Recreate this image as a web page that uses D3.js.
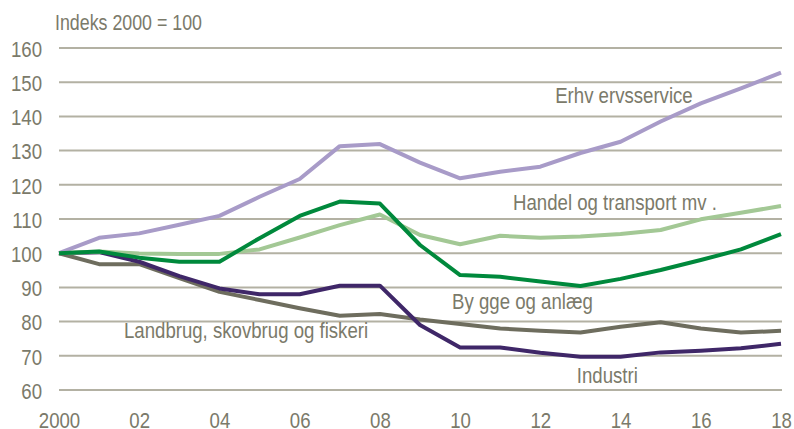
<!DOCTYPE html>
<html>
<head>
<meta charset="utf-8">
<title>Indeks 2000 = 100</title>
<script src="https://d3js.org/d3.v7.min.js"></script>
<style>
    body { margin: 0; background: #fff; }
    text { font-family: "Liberation Sans", Arial, sans-serif; fill: #7b7a6a; }
    .grid line { stroke: #b3b1a3; stroke-width: 2px; }
    .series { fill: none; stroke-width: 4px; stroke-linejoin: round; }
</style>
</head>
<body>
<svg id="chart" width="794" height="429"></svg>
<script>
// data
var years = d3.range(2000, 2019);
var yTicks = [60, 70, 80, 90, 100, 110, 120, 130, 140, 150, 160];
var xTicks = [2000, 2002, 2004, 2006, 2008, 2010, 2012, 2014, 2016, 2018];
var xTickLabels = ["2000", "02", "04", "06", "08", "10", "12", "14", "16", "18"];

var erhvervsservice = [100, 104.5, 105.8, 108.3, 110.9, 116.5, 121.7, 131.3, 131.9, 126.5, 121.9, 123.8, 125.3, 129.3, 132.6, 138.5, 143.8, 148.2, 152.8];
var handel = [100, 100.5, 99.9, 99.8, 99.8, 101.1, 104.6, 108.2, 111.3, 105.3, 102.6, 105.1, 104.5, 104.9, 105.6, 106.8, 109.9, 111.8, 113.8];
var bygge = [100, 100.5, 98.7, 97.5, 97.5, 104.4, 110.9, 115.1, 114.5, 102.4, 93.6, 93.1, 91.7, 90.4, 92.5, 95.1, 98.0, 101.1, 105.6];
var industri = [100, 100.3, 97.5, 93.3, 89.7, 88.0, 88.0, 90.5, 90.5, 79.0, 72.4, 72.4, 70.9, 69.7, 69.7, 71.0, 71.5, 72.2, 73.5];
var landbrug = [100, 96.8, 96.8, 92.7, 88.7, 86.3, 83.9, 81.7, 82.2, 80.6, 79.3, 78.0, 77.3, 76.8, 78.5, 79.8, 78.0, 76.8, 77.3];

var seriesNames = ["Landbrug, skovbrug og fiskeri", "Industri", "Erhv ervsservice", "Handel og transport mv .", "By gge og anlæg"];
var seriesValues = [landbrug, industri, erhvervsservice, handel, bygge];
var seriesColors = ["#6e6d5e", "#3f2768", "#a89bc8", "#a3c895", "#00893c"];
// where each series name starts (year, index value at baseline)
var labelYears = [2001.62, 2012.91, 2012.37, 2011.32, 2009.8];
var labelValues = [75.2, 62.05, 143.9, 112.6, 83.7];

var narrow = 0.81; // squeeze Liberation Sans to look like a narrow face
var fs = 23;

var svg = d3.select("#chart");

var x = d3.scaleLinear().domain([2000, 2018]).range([59, 781]);
var y = d3.scaleLinear().domain([60, 160]).range([390, 48]);

// gridlines
svg.append("g")
    .attr("class", "grid")
    .selectAll("line")
    .data(yTicks)
    .enter()
    .append("line")
    .attr("x1", x(2000))
    .attr("x2", x(2018) + 1)
    .attr("y1", function(d){ return y(d); })
    .attr("y2", function(d){ return y(d); });

// y axis labels
var yAxis = svg.append("g")
    .attr("transform", "translate(42,0)")
    .call(d3.axisLeft(y).tickValues(yTicks).tickSize(0).tickPadding(0));
yAxis.select(".domain").remove();
yAxis.selectAll("text")
    .attr("font-size", fs)
    .attr("font-family", null)
    .attr("fill", null)
    .attr("x", 0)
    .attr("dy", "0.36em")
    .attr("transform", "scale(" + narrow + ",1)");

// x axis labels
var xAxis = svg.append("g")
    .attr("transform", "translate(0,428)")
    .call(d3.axisBottom(x).tickValues(xTicks).tickSize(0).tickPadding(0)
        .tickFormat(function(d, i){ return xTickLabels[i]; }));
xAxis.select(".domain").remove();
xAxis.selectAll("text")
    .attr("font-size", fs)
    .attr("font-family", null)
    .attr("fill", null)
    .attr("dy", 0)
    .attr("y", 0)
    .attr("transform", "scale(" + narrow + ",1)");

// lines
var line = d3.line()
    .x(function(d, i){ return x(years[i]); })
    .y(function(d){ return y(d); });

svg.selectAll(".series")
    .data(seriesValues)
    .enter()
    .append("path")
    .attr("class", "series")
    .attr("d", line)
    .style("stroke", function(d, i){ return seriesColors[i]; });

// series labels
svg.selectAll(".series-label")
    .data(seriesNames)
    .enter()
    .append("text")
    .attr("class", "series-label")
    .attr("transform", function(d, i){
        return "translate(" + x(labelYears[i]) + "," + y(labelValues[i]) + ") scale(" + narrow + ",1)";
    })
    .attr("font-size", fs)
    .text(function(d){ return d; });

// title
svg.append("text")
    .attr("transform", "translate(55,30) scale(" + narrow + ",1)")
    .attr("font-size", 22)
    .text("Indeks 2000 = 100");
</script>
</body>
</html>
